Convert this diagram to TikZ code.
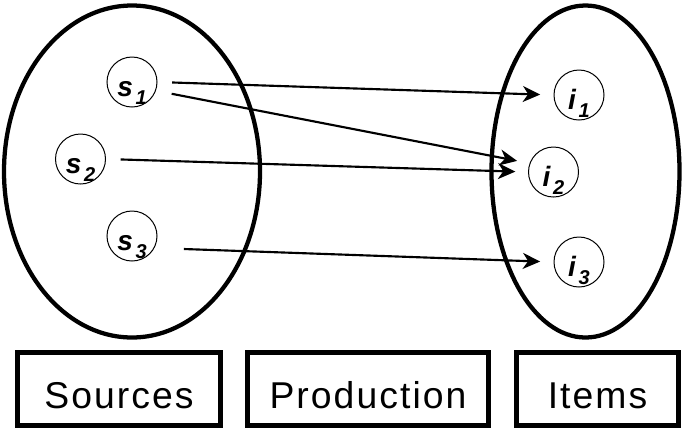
\documentclass[tikz,border=0pt]{standalone}
\usepackage{fontspec}
\setmainfont{Liberation Sans}
\newfontfamily\spacedfont[LetterSpace=5.5]{Liberation Sans}
\usetikzlibrary{arrows.meta}

% element label: bold italic letter with lowered index
\newcommand{\elemlbl}[2]{\raisebox{-10.5pt}[0pt][0pt]{\bfseries\itshape #1\hspace{2pt}\fontsize{15}{15}\selectfont\raisebox{-6pt}{#2}}}

\begin{document}
\begin{tikzpicture}[x=0.75pt,y=0.75pt,yscale=-1,xscale=1,
  setring/.style={draw, line width=3.2pt},
  elem/.style={draw, circle, line width=0.75pt, inner sep=0pt, minimum size=37.5pt, font=\fontsize{21}{21}\selectfont},
  flow/.style={line width=1.6pt, -{Stealth[length=13pt,width=12pt,inset=4pt]}},
  stage/.style={draw, line width=3.75pt, inner sep=0pt, minimum height=54.75pt, text height=28.5pt, text depth=0pt, font=\spacedfont\fontsize{28}{30}\selectfont}]
  \useasboundingbox (0,0) rectangle (682,430);

  %Shape: Ellipse [sources]
  \draw [setring] (132,171.5) ellipse [x radius=128, y radius=166];
  %Shape: Ellipse [items]
  \draw [setring] (585.5,171.5) ellipse [x radius=94, y radius=166];

  % Source nodes
  \node [elem] (s1) at (132,82) {\elemlbl{s}{1}};
  \node [elem] (s2) at (80.5,159) {\elemlbl{s}{2}};
  \node [elem] (s3) at (132,236) {\elemlbl{s}{3}};
  % Item nodes
  \node [elem] (i1) at (579,95) {\elemlbl{i}{1}};
  \node [elem] (i2) at (553.5,172) {\elemlbl{i}{2}};
  \node [elem] (i3) at (579,262) {\elemlbl{i}{3}};

  % Links
  \draw [flow, shorten <=11pt, shorten >=10pt] (s1.east) -- (i1.west);
  \draw [flow, shorten <=12pt, shorten >=9.5pt] (s1.-20) -- (i2.160);
  \draw [flow, shorten <=11pt, shorten >=9.5pt] (s2.east) -- (i2.west);
  \draw [flow, shorten <=22pt, shorten >=10pt] (s3.-28) -- (i3.west);

  % Stage boxes
  \node [stage, minimum width=152.25pt] (srcbox) at (119,389) {Sources};
  \node [stage, minimum width=180.75pt] (prodbox) at (368,389) {Production};
  \node [stage, minimum width=121.5pt] (itembox) at (597.5,389) {Items};

\end{tikzpicture}
\end{document}
